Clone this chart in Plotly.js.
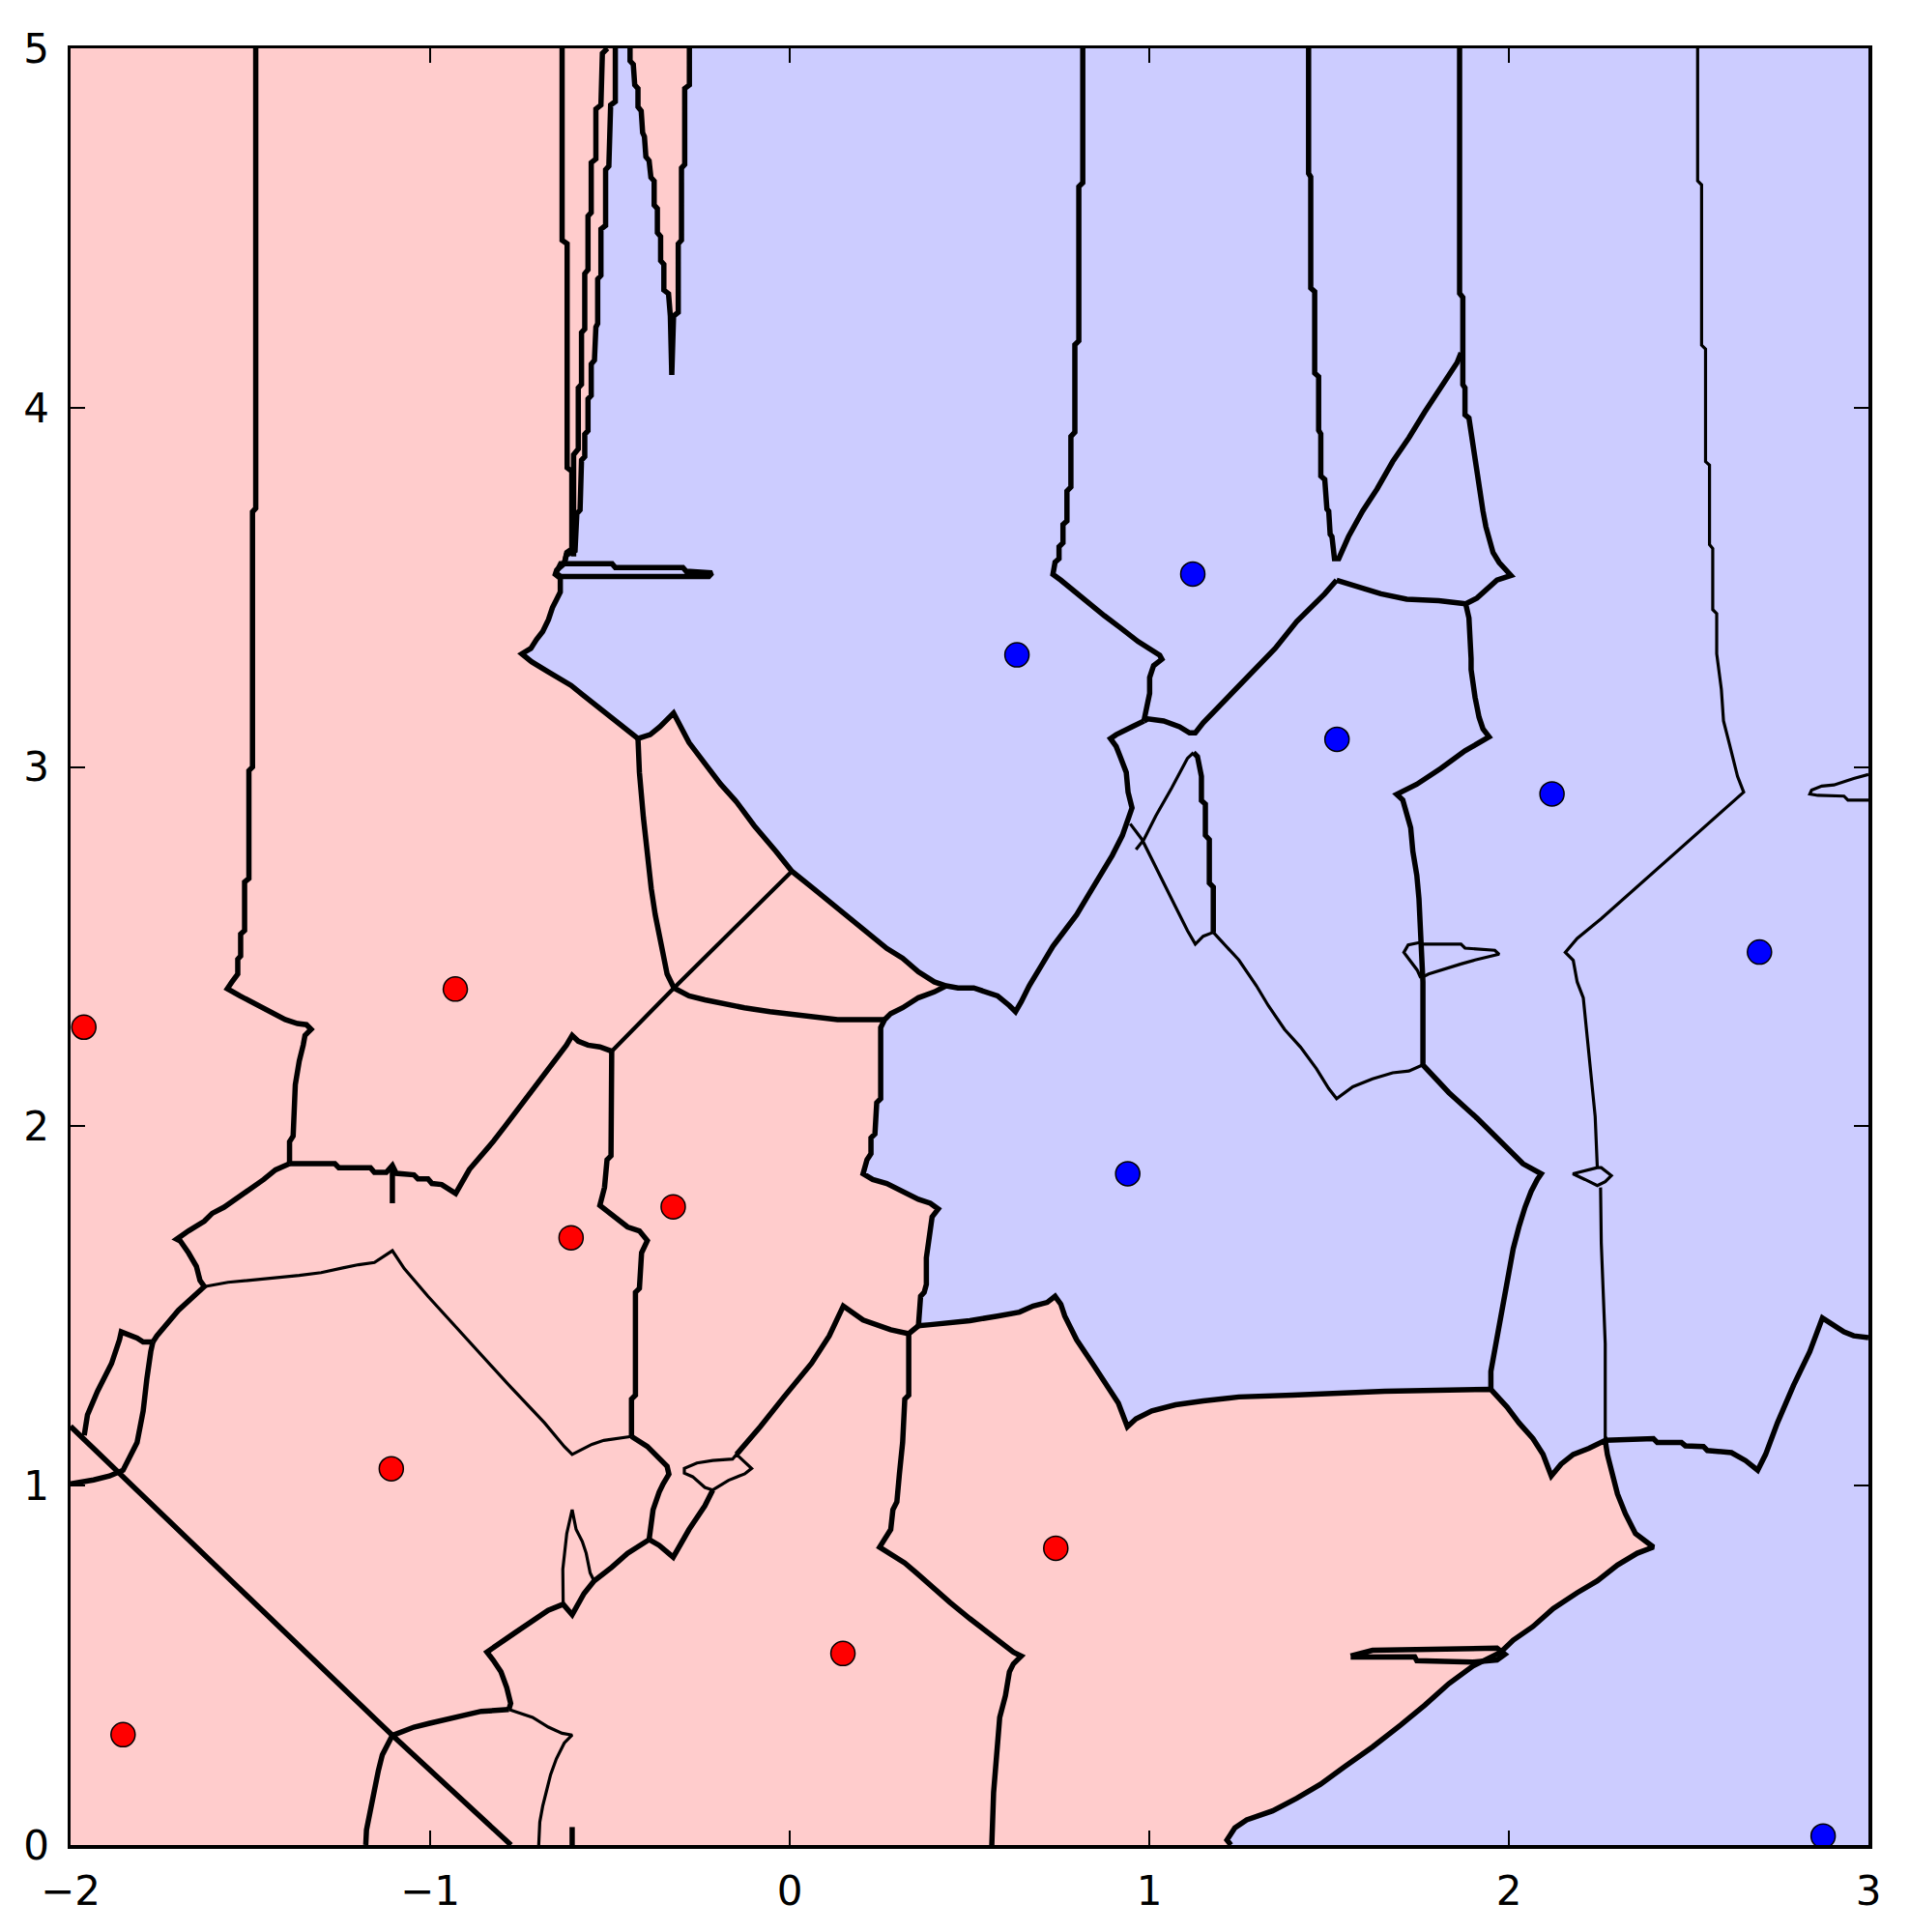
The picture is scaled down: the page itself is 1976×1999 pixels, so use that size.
<!DOCTYPE html>
<html><head><meta charset="utf-8">
<script src="https://cdn.plot.ly/plotly-3.0.1.min.js"></script>
<style>html,body{margin:0;padding:0;background:#fff}</style>
</head><body>
<div id="chart" style="width:1976px;height:1999px"></div>
<script>
// ---- sample points ----
const redX = [-1.963, -0.93, -0.608, -0.324, -1.108, -1.854, 0.148, 0.74];
const redY = [2.276, 2.382, 1.69, 1.776, 1.047, 0.307, 0.533, 0.826];
const blueX = [0.632, 1.121, 1.522, 2.12, 2.697, 0.94, 2.874];
const blueY = [3.312, 3.537, 3.077, 2.925, 2.485, 1.868, 0.025];

// ---- class boundary (blue side) ----
const boundaryMain = [[-0.485,5.0],[-0.485,4.852],[-0.498,4.842],[-0.503,4.672],[-0.512,4.662],[-0.512,4.507],[-0.525,4.497],[-0.525,4.368],[-0.534,4.358],[-0.534,4.234],[-0.539,4.224],[-0.543,4.132],[-0.552,4.121],[-0.552,4.034],[-0.561,4.024],[-0.561,3.936],[-0.57,3.926],[-0.57,3.864],[-0.579,3.854],[-0.583,3.715],[-0.592,3.705],[-0.597,3.602],[-0.621,3.59],[-0.627,3.566],[-0.648,3.548],[-0.652,3.536],[-0.638,3.525],[-0.638,3.487],[-0.649,3.465],[-0.66,3.443],[-0.671,3.41],[-0.687,3.377],[-0.704,3.355],[-0.72,3.33],[-0.745,3.315],[-0.718,3.293],[-0.674,3.266],[-0.608,3.227],[-0.575,3.2],[-0.52,3.156],[-0.476,3.123],[-0.422,3.079],[-0.388,3.09],[-0.361,3.112],[-0.323,3.15],[-0.302,3.112],[-0.28,3.068],[-0.23,3.002],[-0.192,2.952],[-0.148,2.903],[-0.099,2.837],[-0.038,2.765],[0.006,2.71],[0.061,2.666],[0.116,2.622],[0.171,2.578],[0.226,2.534],[0.27,2.495],[0.314,2.468],[0.358,2.43],[0.402,2.402],[0.435,2.391],[0.402,2.374],[0.358,2.358],[0.314,2.33],[0.281,2.314],[0.264,2.297],[0.253,2.275],[0.253,2.077],[0.242,2.066],[0.237,1.979],[0.226,1.968],[0.226,1.924],[0.215,1.907],[0.204,1.868],[0.231,1.852],[0.27,1.841],[0.314,1.819],[0.358,1.797],[0.391,1.786],[0.413,1.77],[0.396,1.748],[0.391,1.709],[0.385,1.676],[0.38,1.634],[0.38,1.56],[0.374,1.538],[0.364,1.527],[0.358,1.445],[0.391,1.448],[0.501,1.459],[0.578,1.472],[0.639,1.483],[0.677,1.5],[0.716,1.51],[0.738,1.527],[0.754,1.505],[0.765,1.472],[0.798,1.406],[0.842,1.34],[0.886,1.274],[0.914,1.23],[0.939,1.164],[0.963,1.186],[1.007,1.208],[1.073,1.225],[1.15,1.236],[1.249,1.247],[1.398,1.252],[1.655,1.263],[1.95,1.268],[1.995,1.219],[2.028,1.175],[2.067,1.131],[2.095,1.087],[2.118,1.027],[2.145,1.06],[2.179,1.087],[2.223,1.104],[2.268,1.126],[2.274,1.087],[2.285,1.043],[2.302,0.977],[2.324,0.922],[2.352,0.867],[2.402,0.829],[2.357,0.812],[2.302,0.779],[2.246,0.735],[2.19,0.702],[2.123,0.658],[2.067,0.608],[2.012,0.57],[1.978,0.537],[1.9,0.498],[1.833,0.449],[1.766,0.389],[1.699,0.334],[1.621,0.273],[1.543,0.218],[1.476,0.169],[1.41,0.13],[1.343,0.095],[1.271,0.07],[1.238,0.048],[1.216,0.014],[1.227,0.0]];
const regionCorners = [[3.0,0.0],[3.0,5.0]];
const boundaryWedge = [[-0.279,5.0],[-0.279,4.898],[-0.292,4.888],[-0.292,4.677],[-0.301,4.667],[-0.301,4.466],[-0.31,4.456],[-0.31,4.265],[-0.323,4.255],[-0.328,4.091],[-0.332,4.255],[-0.337,4.317],[-0.35,4.327],[-0.35,4.399],[-0.359,4.409],[-0.359,4.476],[-0.368,4.487],[-0.368,4.554],[-0.377,4.564],[-0.377,4.631],[-0.386,4.641],[-0.391,4.687],[-0.4,4.698],[-0.404,4.754],[-0.409,4.765],[-0.413,4.826],[-0.422,4.837],[-0.422,4.888],[-0.431,4.898],[-0.435,4.955],[-0.444,4.965],[-0.444,5.0]];

// ---- contour lines (thick level) ----
const lineLeftVert = [[-1.485,5.0],[-1.485,3.72],[-1.494,3.71],[-1.494,3.0],[-1.504,2.99],[-1.504,2.69],[-1.516,2.68],[-1.516,2.545],[-1.527,2.535],[-1.527,2.474],[-1.535,2.465],[-1.535,2.424],[-1.551,2.402],[-1.564,2.383],[-1.529,2.363],[-1.485,2.341],[-1.441,2.319],[-1.403,2.297],[-1.369,2.286],[-1.344,2.283],[-1.331,2.27],[-1.348,2.253],[-1.353,2.226],[-1.364,2.182],[-1.375,2.116],[-1.381,1.973],[-1.391,1.957],[-1.391,1.896]];
const lineMidH = [[-1.391,1.896],[-1.265,1.896],[-1.254,1.885],[-1.166,1.885],[-1.155,1.872],[-1.122,1.872],[-1.105,1.891],[-1.094,1.869],[-1.045,1.865],[-1.034,1.854],[-1.006,1.854],[-0.995,1.841],[-0.968,1.838],[-0.929,1.813],[-0.891,1.88],[-0.858,1.918],[-0.825,1.957],[-0.792,2.0],[-0.759,2.044],[-0.72,2.094],[-0.682,2.143],[-0.649,2.187],[-0.621,2.226],[-0.605,2.253],[-0.588,2.237],[-0.561,2.226],[-0.528,2.221],[-0.495,2.209]];
const lineTick1 = [[-1.105,1.891],[-1.105,1.786]];
const lineJ1Down = [[-0.495,2.209],[-0.497,1.918],[-0.508,1.907],[-0.515,1.83],[-0.528,1.78],[-0.495,1.753],[-0.451,1.72],[-0.418,1.709],[-0.396,1.682],[-0.412,1.648],[-0.418,1.549],[-0.429,1.538],[-0.429,1.252],[-0.44,1.241],[-0.44,1.137]];
const lineJ3J9 = [[-0.44,1.137],[-0.396,1.109],[-0.341,1.054],[-0.336,1.032],[-0.352,1.005],[-0.363,0.982],[-0.38,0.933],[-0.385,0.9],[-0.391,0.85]];
const lineJ4 = [[-1.391,1.896],[-1.43,1.879],[-1.463,1.852],[-1.496,1.83],[-1.534,1.802],[-1.573,1.775],[-1.606,1.758],[-1.628,1.736],[-1.672,1.709],[-1.705,1.686],[-1.695,1.681],[-1.672,1.648],[-1.65,1.61],[-1.64,1.571],[-1.628,1.554],[-1.7,1.488],[-1.76,1.417],[-1.771,1.4]];
const lineJ5Left = [[-1.771,1.4],[-1.798,1.4],[-1.815,1.411],[-1.848,1.422],[-1.859,1.428],[-1.864,1.406],[-1.886,1.34],[-1.925,1.263],[-1.953,1.197],[-1.962,1.14]];
const lineJ5Down = [[-1.771,1.4],[-1.777,1.373],[-1.788,1.296],[-1.798,1.208],[-1.815,1.12],[-1.832,1.087],[-1.854,1.043],[-1.892,1.027],[-1.936,1.016],[-2.0,1.005]];
const lineDiag = [[-2.0,1.165],[-1.105,0.305],[-0.775,0.0]];
const lineJ6Right = [[-1.105,0.305],[-1.078,0.317],[-1.045,0.328],[-1.001,0.339],[-0.957,0.35],[-0.913,0.361],[-0.858,0.372],[-0.781,0.377]];
const lineJ6Down = [[-1.105,0.305],[-1.116,0.284],[-1.133,0.251],[-1.144,0.207],[-1.155,0.152],[-1.166,0.097],[-1.177,0.042],[-1.179,0.0]];
const lineTick2 = [[-0.605,0.0],[-0.605,0.05]];
const lineJ7Up = [[-0.781,0.377],[-0.776,0.394],[-0.787,0.438],[-0.803,0.482],[-0.825,0.515],[-0.842,0.537],[-0.765,0.59],[-0.672,0.653],[-0.63,0.67],[-0.605,0.641],[-0.572,0.70],[-0.544,0.735],[-0.495,0.773],[-0.451,0.812],[-0.391,0.85]];
const lineJ9Right = [[-0.391,0.85],[-0.363,0.834],[-0.324,0.801],[-0.28,0.878],[-0.236,0.944],[-0.214,0.988]];
const lineDiagJ10 = [[-0.148,1.087],[-0.082,1.164],[-0.016,1.247],[0.061,1.341],[0.11,1.417],[0.144,1.494],[0.149,1.5],[0.204,1.461],[0.281,1.434],[0.331,1.423],[0.358,1.445]];
const lineJ10Down = [[0.331,1.423],[0.331,1.252],[0.32,1.241],[0.314,1.12],[0.305,1.032],[0.298,0.955],[0.287,0.933],[0.281,0.878],[0.25,0.829],[0.292,0.801],[0.32,0.785],[0.353,0.757],[0.402,0.713],[0.446,0.675],[0.501,0.63],[0.551,0.592],[0.589,0.565],[0.622,0.537],[0.644,0.526],[0.622,0.504],[0.611,0.482],[0.6,0.416],[0.584,0.355],[0.578,0.267],[0.567,0.146],[0.562,0.0]];
const lineJ2Right = [[-0.322,2.385],[-0.28,2.363],[-0.236,2.352],[-0.187,2.341],[-0.126,2.33],[-0.055,2.319],[0.033,2.308],[0.133,2.297],[0.264,2.297]];
const lineCornerJ2 = [[-0.422,3.079],[-0.418,2.985],[-0.407,2.86],[-0.396,2.749],[-0.385,2.661],[-0.374,2.589],[-0.363,2.523],[-0.352,2.479],[-0.341,2.424],[-0.322,2.385]];
const lineC = [[-0.633,5.0],[-0.633,4.466],[-0.619,4.456],[-0.619,3.833],[-0.606,3.823],[-0.606,3.607],[-0.62,3.597],[-0.627,3.566]];
const lineA = [[-0.507,5.0],[-0.521,4.986],[-0.525,4.842],[-0.539,4.831],[-0.539,4.692],[-0.552,4.682],[-0.552,4.543],[-0.561,4.533],[-0.561,4.384],[-0.57,4.373],[-0.57,4.219],[-0.579,4.209],[-0.579,4.065],[-0.588,4.055],[-0.588,3.885],[-0.601,3.869],[-0.601,3.586]];
const loopTopH = [[-0.65,3.54],[-0.637,3.566],[-0.494,3.566],[-0.485,3.555],[-0.297,3.555],[-0.288,3.545],[-0.216,3.54],[-0.225,3.53],[-0.637,3.53],[-0.65,3.54]];
const lineCornerPeak = [[0.435,2.391],[0.468,2.385],[0.512,2.385],[0.545,2.374],[0.578,2.363],[0.611,2.336],[0.628,2.319],[0.644,2.347],[0.666,2.391],[0.699,2.446],[0.732,2.501],[0.765,2.545],[0.798,2.589],[0.831,2.644],[0.864,2.699],[0.897,2.754],[0.925,2.809],[0.941,2.858],[0.952,2.886],[0.941,2.93],[0.936,2.985],[0.919,3.029],[0.908,3.057],[0.892,3.079],[0.908,3.09],[0.952,3.112],[0.985,3.128]];
const lineTopVert = [[0.815,5.0],[0.815,4.626],[0.804,4.615],[0.804,4.186],[0.793,4.175],[0.793,3.932],[0.782,3.92],[0.782,3.779],[0.771,3.768],[0.771,3.685],[0.76,3.675],[0.76,3.624],[0.749,3.613],[0.749,3.58],[0.738,3.57],[0.732,3.536],[0.754,3.52],[0.787,3.492],[0.831,3.459],[0.875,3.421],[0.919,3.388],[0.969,3.349],[1.029,3.311],[1.035,3.3],[1.012,3.282],[1.001,3.249],[1.001,3.205],[0.99,3.156],[0.985,3.128]];
const lineJ17Right = [[0.985,3.128],[0.996,3.134],[1.04,3.128],[1.084,3.112],[1.112,3.095],[1.128,3.095],[1.15,3.123],[1.25,3.225],[1.35,3.33],[1.41,3.405],[1.488,3.482],[1.521,3.52]];
const lineJ16Left = [[1.521,3.52],[1.554,3.509],[1.593,3.496],[1.644,3.482],[1.716,3.467],[1.805,3.463],[1.88,3.454]];
const lineSpikeV = [[1.443,5.0],[1.443,4.652],[1.449,4.642],[1.449,4.333],[1.46,4.323],[1.46,4.096],[1.471,4.086],[1.471,3.937],[1.477,3.927],[1.477,3.81],[1.488,3.8],[1.494,3.718],[1.499,3.712],[1.503,3.648],[1.508,3.641],[1.515,3.58],[1.527,3.58],[1.554,3.641],[1.593,3.712],[1.633,3.773],[1.677,3.85],[1.722,3.916],[1.766,3.988],[1.811,4.059],[1.856,4.125],[1.867,4.153]];
const lineRightThick = [[1.863,5.0],[1.863,4.318],[1.872,4.307],[1.872,4.064],[1.878,4.055],[1.878,3.98],[1.889,3.971],[1.9,3.894],[1.911,3.817],[1.922,3.762],[1.928,3.712],[1.936,3.669],[1.945,3.63],[1.956,3.597],[1.973,3.569],[2.006,3.533],[1.967,3.52],[1.934,3.492],[1.911,3.47],[1.88,3.454],[1.889,3.415],[1.895,3.302],[1.895,3.271],[1.906,3.194],[1.917,3.139],[1.928,3.106],[1.945,3.084],[1.878,3.045],[1.811,2.996],[1.744,2.952],[1.688,2.924],[1.705,2.908],[1.727,2.831],[1.733,2.765],[1.744,2.699],[1.75,2.633],[1.755,2.512],[1.761,2.402],[1.761,2.171],[1.833,2.094],[1.911,2.023],[1.967,1.967],[2.039,1.896],[2.09,1.868],[2.079,1.852],[2.062,1.819],[2.045,1.775],[2.028,1.72],[2.012,1.659],[2.0,1.593],[1.989,1.536],[1.978,1.469],[1.967,1.406],[1.95,1.318],[1.95,1.268]];
const lineJ18Up = [[1.178,2.54],[1.178,2.666],[1.167,2.677],[1.167,2.798],[1.156,2.81],[1.156,2.897],[1.145,2.907],[1.145,2.974],[1.134,3.029],[1.123,3.04]];
const lineJ12Right = [[2.268,1.126],[2.402,1.131],[2.413,1.12],[2.48,1.12],[2.491,1.111],[2.541,1.109],[2.552,1.098],[2.619,1.092],[2.658,1.07],[2.692,1.043],[2.714,1.087],[2.747,1.175],[2.792,1.28],[2.837,1.373],[2.872,1.467],[2.904,1.445],[2.932,1.428],[2.959,1.417],[3.0,1.412]];
const sliver = [[1.56,0.526],[1.621,0.542],[1.967,0.548],[1.989,0.531],[1.967,0.515],[1.9,0.509],[1.744,0.513],[1.738,0.524],[1.56,0.523]];

// ---- medium line ----
const lineJ1J2 = [[-0.495,2.209],[-0.322,2.385],[0.006,2.71]];

// ---- contour lines (thin level) ----
const lineJ3Left = [[-0.44,1.137],[-0.484,1.131],[-0.517,1.126],[-0.55,1.115],[-0.583,1.098],[-0.605,1.087],[-0.627,1.109],[-0.682,1.175],[-0.781,1.28],[-0.897,1.406],[-1.006,1.527],[-1.072,1.604],[-1.105,1.654],[-1.155,1.621],[-1.199,1.615],[-1.243,1.606],[-1.303,1.593],[-1.364,1.585],[-1.452,1.577],[-1.562,1.566],[-1.628,1.554]];
const lineJ7Right = [[-0.781,0.377],[-0.715,0.355],[-0.671,0.328],[-0.633,0.311],[-0.605,0.306],[-0.627,0.284],[-0.649,0.24],[-0.665,0.196],[-0.676,0.152],[-0.687,0.108],[-0.695,0.064],[-0.698,0.0]];
const lineTriangle = [[-0.63,0.67],[-0.631,0.768],[-0.62,0.867],[-0.605,0.933],[-0.594,0.878],[-0.577,0.845],[-0.566,0.812],[-0.555,0.757],[-0.544,0.735]];
const loopSmall = [[-0.214,0.988],[-0.236,0.995],[-0.27,1.025],[-0.293,1.035],[-0.293,1.048],[-0.258,1.063],[-0.214,1.07],[-0.159,1.074],[-0.148,1.087],[-0.106,1.048],[-0.125,1.033],[-0.17,1.015],[-0.214,0.988]];
const lineJ19Up = [[0.264,2.297],[0.281,2.314],[0.314,2.33],[0.358,2.358],[0.402,2.374],[0.435,2.391]];
const lineJ18Left = [[1.178,2.54],[1.15,2.529],[1.128,2.507],[1.106,2.545],[1.073,2.611],[1.04,2.677],[1.007,2.743],[0.98,2.798],[0.947,2.842]];
const linePeakDown = [[1.123,3.04],[1.106,3.024],[1.062,2.941],[1.018,2.864],[0.985,2.798],[0.963,2.77]];
const lineJ14Left = [[1.761,2.171],[1.722,2.154],[1.677,2.149],[1.621,2.132],[1.566,2.11],[1.521,2.077],[1.499,2.105],[1.465,2.16],[1.421,2.22],[1.376,2.27],[1.331,2.336],[1.298,2.391],[1.249,2.463],[1.205,2.512],[1.178,2.54]];
const loopJ13a = [[1.755,2.512],[1.72,2.505],[1.708,2.484],[1.727,2.46],[1.745,2.435],[1.755,2.413]];
const loopJ13b = [[1.755,2.507],[1.867,2.507],[1.878,2.496],[1.961,2.49],[1.973,2.479],[1.945,2.473],[1.906,2.463],[1.867,2.452],[1.811,2.435],[1.777,2.424],[1.755,2.413]];
const lineRightThin = [[2.525,5.0],[2.525,4.631],[2.536,4.62],[2.536,4.174],[2.547,4.163],[2.547,3.85],[2.558,3.84],[2.558,3.619],[2.567,3.608],[2.567,3.438],[2.578,3.427],[2.578,3.315],[2.591,3.216],[2.597,3.128],[2.614,3.062],[2.636,2.974],[2.653,2.93],[2.591,2.875],[2.491,2.787],[2.368,2.677],[2.257,2.578],[2.19,2.523],[2.157,2.484],[2.179,2.462],[2.19,2.402],[2.207,2.358],[2.218,2.248],[2.229,2.149],[2.24,2.028],[2.246,1.885]];
const loopJ12 = [[2.246,1.885],[2.178,1.868],[2.212,1.852],[2.246,1.835],[2.268,1.846],[2.285,1.863],[2.257,1.885],[2.246,1.885]];
const lineJ12Up = [[2.255,1.83],[2.257,1.676],[2.268,1.395],[2.268,1.126]];
const loopRightEdge = [[3.0,2.979],[2.959,2.968],[2.904,2.95],[2.87,2.947],[2.842,2.936],[2.837,2.925],[2.859,2.921],[2.932,2.919],[2.943,2.908],[3.0,2.908]];

const thickSet = [boundaryMain, boundaryWedge, lineLeftVert, lineMidH, lineTick1, lineJ1Down, lineJ3J9, lineJ4, lineJ5Left, lineJ5Down, lineDiag, lineJ6Right, lineJ6Down, lineTick2, lineJ7Up, lineJ9Right, lineDiagJ10, lineJ10Down, lineJ2Right, lineCornerJ2, lineC, lineA, loopTopH, lineCornerPeak, lineTopVert, lineJ17Right, lineJ16Left, lineSpikeV, lineRightThick, lineJ18Up, lineJ12Right, sliver];
const mediumSet = [lineJ1J2];
const thinSet = [lineJ3Left, lineJ7Right, lineTriangle, loopSmall, lineJ19Up, lineJ18Left, linePeakDown, lineJ14Left, loopJ13a, loopJ13b, lineRightThin, loopJ12, lineJ12Up, loopRightEdge];

function joinLines(set) {
  const x = [], y = [];
  set.forEach(function (pts) {
    pts.forEach(function (p) { x.push(p[0]); y.push(p[1]); });
    x.push(null); y.push(null);
  });
  return {x: x, y: y};
}
const regionPts = boundaryMain.concat(regionCorners, boundaryWedge);

const traces = [];
traces.push({
  type: 'scatter', mode: 'lines', x: regionPts.map(p => p[0]), y: regionPts.map(p => p[1]),
  fill: 'toself', fillcolor: '#CCCCFF', line: {width: 0, color: 'rgba(0,0,0,0)'}, hoverinfo: 'skip', showlegend: false
});
[[thickSet, 5.5], [mediumSet, 4.2], [thinSet, 3.2]].forEach(function (spec) {
  const d = joinLines(spec[0]);
  traces.push({type: 'scatter', mode: 'lines', x: d.x, y: d.y, connectgaps: false,
    line: {color: '#000000', width: spec[1]}, hoverinfo: 'skip', showlegend: false});
});
traces.push({type: 'scatter', mode: 'markers', x: redX, y: redY, cliponaxis: false,
  marker: {color: '#FF0000', size: 25, line: {color: '#000000', width: 1.5}}, showlegend: false});
traces.push({type: 'scatter', mode: 'markers', x: blueX, y: blueY, cliponaxis: false,
  marker: {color: '#0000FF', size: 25, line: {color: '#000000', width: 1.5}}, showlegend: false});

const axisCommon = {
  ticks: 'inside', ticklen: 15, tickwidth: 2, tickcolor: '#000',
  showline: true, linewidth: 3.5, linecolor: '#000', mirror: 'ticks',
  showgrid: false, zeroline: false,
  tickfont: {family: 'DejaVu Sans', size: 42, color: '#000'}
};
const layout = {
  width: 1976, height: 1999,
  margin: {l: 73, r: 43, t: 50, b: 90},
  paper_bgcolor: '#ffffff', plot_bgcolor: '#FFCCCC',
  showlegend: false,
  xaxis: Object.assign({}, axisCommon, {range: [-2, 3], tickvals: [-2, -1, 0, 1, 2, 3], ticklabelstandoff: 8}),
  yaxis: Object.assign({}, axisCommon, {range: [0, 5], tickvals: [0, 1, 2, 3, 4, 5], ticklabelstandoff: 10})
};
Plotly.newPlot('chart', traces, layout, {staticPlot: true, displayModeBar: false});
</script>
</body></html>
